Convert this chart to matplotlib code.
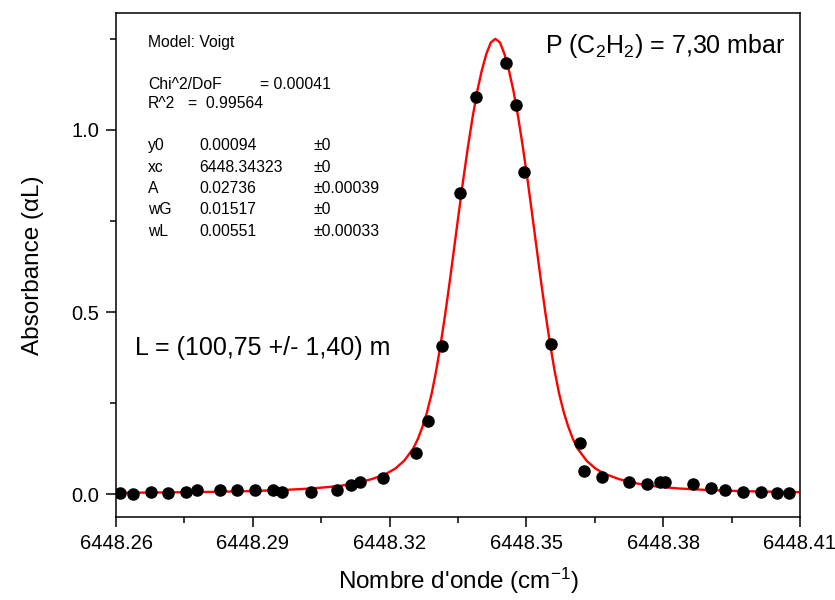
import matplotlib
matplotlib.use("Agg")
import matplotlib.pyplot as plt
from matplotlib.ticker import MultipleLocator, FormatStrFormatter

plt.rcParams["font.family"] = ["Liberation Sans", "DejaVu Sans"]
plt.rcParams["mathtext.fontset"] = "custom"
plt.rcParams["mathtext.rm"] = "Liberation Sans"
plt.rcParams["mathtext.it"] = "Liberation Sans:italic"

# measured points (wavenumber, absorbance)
wn = [6448.2609, 6448.2638, 6448.2676, 6448.2715, 6448.2754, 6448.2777,
      6448.2827, 6448.2865, 6448.2905, 6448.2944, 6448.2963, 6448.3027,
      6448.3085, 6448.3115, 6448.3135, 6448.3185, 6448.3258, 6448.3285,
      6448.3314, 6448.3354, 6448.3389, 6448.3455, 6448.3477, 6448.3495,
      6448.3554, 6448.3618, 6448.3627, 6448.3666, 6448.3725, 6448.3765,
      6448.3793, 6448.3805, 6448.3866, 6448.3906, 6448.3936, 6448.3976,
      6448.4014, 6448.4049, 6448.4077]
absorb = [0.004, 0.002, 0.005, 0.004, 0.006, 0.013,
          0.013, 0.013, 0.013, 0.012, 0.007, 0.007,
          0.013, 0.025, 0.033, 0.045, 0.114, 0.200,
          0.407, 0.828, 1.091, 1.183, 1.068, 0.885,
          0.412, 0.141, 0.064, 0.048, 0.033, 0.029,
          0.033, 0.034, 0.029, 0.017, 0.011, 0.006,
          0.006, 0.004, 0.004]

# Voigt fit curve
fit_wn = [6448.2600, 6448.2692, 6448.2792, 6448.2892, 6448.2972, 6448.3032,
          6448.3092, 6448.3132, 6448.3162, 6448.3192, 6448.3212, 6448.3232,
          6448.3252, 6448.3262, 6448.3272, 6448.3282, 6448.3292, 6448.3302,
          6448.3312, 6448.3322, 6448.3332, 6448.3342, 6448.3352, 6448.3362,
          6448.3372, 6448.3382, 6448.3392, 6448.3402, 6448.3412, 6448.3422,
          6448.3432,
          6448.3442, 6448.3452, 6448.3462, 6448.3472, 6448.3482, 6448.3492,
          6448.3502, 6448.3512, 6448.3522, 6448.3532, 6448.3542, 6448.3552,
          6448.3562, 6448.3572, 6448.3582, 6448.3592, 6448.3602, 6448.3612,
          6448.3632, 6448.3652, 6448.3672, 6448.3702, 6448.3732, 6448.3772,
          6448.3832, 6448.3892, 6448.3972, 6448.4072, 6448.4100]
fit_abs = [0.0041, 0.0048, 0.0062, 0.0085, 0.012, 0.016,
           0.023, 0.032, 0.042, 0.056, 0.070, 0.092,
           0.126, 0.152, 0.185, 0.225, 0.275, 0.338,
           0.412, 0.495, 0.585, 0.680, 0.775, 0.868,
           0.955, 1.035, 1.105, 1.162, 1.208, 1.240,
           1.250,
           1.240, 1.208, 1.162, 1.105, 1.035, 0.955,
           0.868, 0.775, 0.680, 0.585, 0.495, 0.412,
           0.338, 0.275, 0.225, 0.185, 0.152, 0.126,
           0.092, 0.070, 0.056, 0.042, 0.032, 0.023,
           0.016, 0.012, 0.0085, 0.0062, 0.0058]

param_names = ["y0", "xc", "A", "wG", "wL"]
param_values = ["0.00094", "6448.34323", "0.02736", "0.01517", "0.00551"]
param_errors = ["\u00b10", "\u00b10", "\u00b10.00039", "\u00b10", "\u00b10.00033"]

fig = plt.figure(figsize=(8.35, 6.0), dpi=100)
ax = fig.add_axes([0.139, 0.138, 0.819, 0.841])

ax.plot(fit_wn, fit_abs, color="red", lw=1.7, zorder=2)
ax.plot(wn, absorb, "o", color="black", ms=8, zorder=3)

ax.set_xlim(6448.26, 6448.41)
ax.set_ylim(-0.063, 1.322)
ax.xaxis.set_major_locator(MultipleLocator(0.03))
ax.xaxis.set_minor_locator(MultipleLocator(0.015))
ax.xaxis.set_major_formatter(FormatStrFormatter("%.2f"))
ax.yaxis.set_major_locator(MultipleLocator(0.5))
ax.yaxis.set_minor_locator(MultipleLocator(0.25))
ax.yaxis.set_major_formatter(FormatStrFormatter("%.1f"))

ax.tick_params(which="both", direction="out", width=1.1, top=False, right=False,
               labelsize=14.5, colors="black")
ax.tick_params(which="major", length=7, pad=5)
ax.tick_params(which="minor", length=4)
for s in ax.spines.values():
    s.set_linewidth(1.1)

ax.set_xlabel("Nombre d'onde (cm$\\mathregular{^{-1}}$)", fontsize=17.5, labelpad=9)
ax.set_ylabel("Absorbance (\u03b1L)", fontsize=17.5, labelpad=20)

# fit report
fs = 11.3
ax.text(0.047, 0.940, "Model: Voigt", transform=ax.transAxes, fontsize=fs, va="center")
ax.text(0.047, 0.858, "Chi^2/DoF", transform=ax.transAxes, fontsize=fs, va="center")
ax.text(0.210, 0.858, "= 0.00041", transform=ax.transAxes, fontsize=fs, va="center")
ax.text(0.047, 0.819, "R^2", transform=ax.transAxes, fontsize=fs, va="center")
ax.text(0.105, 0.819, "=  0.99564", transform=ax.transAxes, fontsize=fs, va="center")
for i, (n, v, e) in enumerate(zip(param_names, param_values, param_errors)):
    yy = 0.736 - i * 0.0423
    ax.text(0.047, yy, n, transform=ax.transAxes, fontsize=fs, va="center")
    ax.text(0.122, yy, v, transform=ax.transAxes, fontsize=fs, va="center")
    ax.text(0.288, yy, e, transform=ax.transAxes, fontsize=fs, va="center")

ax.text(0.627, 0.934, "P (C$\\mathregular{_2}$H$\\mathregular{_2}$) = 7,30 mbar",
        transform=ax.transAxes, fontsize=18, va="center")
ax.text(0.028, 0.335, "L = (100,75 +/- 1,40) m", transform=ax.transAxes,
        fontsize=18, va="center")

fig.savefig("out.png", dpi=100, facecolor="white")
